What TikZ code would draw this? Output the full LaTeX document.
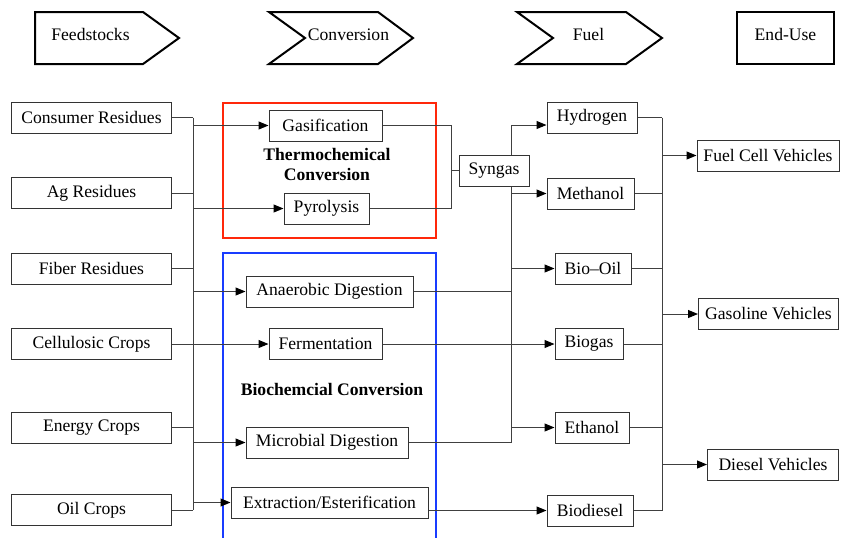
\documentclass[tikz,border=0pt]{standalone}
\usepackage{fontspec}
\setmainfont{Liberation Serif}
\usetikzlibrary{arrows.meta, positioning, calc}

\definecolor{thermored}{RGB}{255,40,10}
\definecolor{bioblue}{RGB}{25,60,255}

\tikzset{
    box/.style={draw=black!80, line width=0.5pt, fill=white, inner sep=0pt,
        minimum width=#1, minimum height=15.5pt},
    box/.default=40pt,
    hdr/.style={draw=black, line width=1pt, line join=miter},
    link/.style={draw=black!75, line width=0.5pt},
    arr/.style={link, -{Triangle[length=5pt, width=4pt, color=black]}},
    group/.style={line width=1.1pt},
    grouplabel/.style={font=\fontsize{8.8}{10}\selectfont\bfseries, align=center},
}

\begin{document}
\begin{tikzpicture}[x=0.5pt, y=-0.5pt, font=\fontsize{8.8}{10}\selectfont]

    \useasboundingbox (0,0) rectangle (841,537);
    \fill[white] (0,0) rectangle (841,537);

    % Define bus positions
    \def\BusA{193}
    \def\BusB{451}
    \def\BusC{511}
    \def\BusD{662}

    % Header chevrons
    \draw[hdr] (35,12) -- (143,12) -- (179,38) -- (143,64) -- (35,64) -- cycle;
    \node[anchor=base] (hfeed) at (90.5,40) {Feedstocks};
    \draw[hdr] (269,12) -- (378,12) -- (413,38) -- (378,64) -- (269,64) -- (305,38) -- cycle;
    \node[anchor=base] (hconv) at (348.5,40) {Conversion};
    \draw[hdr] (517,12) -- (626,12) -- (662,38) -- (626,64) -- (517,64) -- (553,38) -- cycle;
    \node[anchor=base] (hfuel) at (588.5,40) {Fuel};
    \draw[hdr] (737,12) rectangle (834,64);
    \node[anchor=base] (huse) at (785.5,40) {End-Use};

    % Conversion groups
    \draw[group, thermored] (223,103) rectangle (436,238);
    \node[grouplabel] (thermo) at (327,164) {Thermochemical\\Conversion};
    \draw[group, bioblue] (223,253) rectangle (436,545);
    \node[grouplabel] (bio) at (332,389) {Biochemcial Conversion};

    % Feedstocks
    \node[box=80pt] (cons)   at (91.5,117.5) {Consumer Residues};
    \node[box=80pt] (ag)     at (91.5,193)   {Ag Residues};
    \node[box=80pt] (fiber)  at (91.5,268.5) {Fiber Residues};
    \node[box=80pt] (cell)   at (91.5,344)   {Cellulosic Crops};
    \node[box=80pt] (energy) at (91.5,427.5) {Energy Crops};
    \node[box=80pt] (oil)    at (91.5,510)   {Oil Crops};

    % Conversion processes
    \node[box=56.5pt] (gas)   at (325.5,125.5) {Gasification};
    \node[box=42.5pt] (pyro)  at (326.5,208.5) {Pyrolysis};
    \node[box=83.5pt] (anaer) at (329.5,291.5) {Anaerobic Digestion};
    \node[box=56.5pt] (ferm)  at (325.5,344)   {Fermentation};
    \node[box=81pt]   (micro) at (327,442.5)   {Microbial Digestion};
    \node[box=98.5pt] (extr)  at (329.5,502.5) {Extraction/Esterification};
    \node[box=35pt]   (syn)   at (494,170.5)   {Syngas};

    % Fuels
    \node[box=45pt]   (hyd)    at (592,117.5)   {Hydrogen};
    \node[box=43.5pt] (meth)   at (590.5,193.5) {Methanol};
    \node[box=38pt]   (biooil) at (593,268.5)   {Bio--Oil};
    \node[box=34pt]   (biogas) at (589,344)     {Biogas};
    \node[box=37pt]   (eth)    at (592,427.5)   {Ethanol};
    \node[box=43pt]   (biod)   at (590,510.5)   {Biodiesel};

    % End uses
    \node[box=71pt]   (fcv)  at (768,155.5) {Fuel Cell Vehicles};
    \node[box=70pt]   (gasv) at (768.5,314) {Gasoline Vehicles};
    \node[box=65.5pt] (dsl)  at (773,464.5) {Diesel Vehicles};

    % Bus coordinates
    \coordinate (ba) at (\BusA,0);
    \coordinate (bb) at (\BusB,0);
    \coordinate (bc) at (\BusC,0);
    \coordinate (bd) at (\BusD,0);
    \coordinate (hin) at ([yshift=-3.75pt]hyd.west);

    % Feedstocks to conversion
    \foreach \src in {cons, ag, fiber, energy, oil}
        \draw[link] (\src.east) -- (ba |- \src.east);
    \draw[link] (ba |- cons.east) -- (ba |- oil.east);
    \foreach \dst in {gas, pyro, anaer, micro, extr}
        \draw[arr] (ba |- \dst.west) -- (\dst.west);
    \draw[arr] (cell.east) -- (ferm.west);

    % Thermochemical to syngas
    \draw[link] (gas.east) -- (bb |- gas.east) -- (bb |- pyro.east) -- (pyro.east);
    \draw[link] (bb |- syn.west) -- (syn.west);

    % Syngas and biochemical to fuels
    \draw[link] (bc |- syn.north) -- (bc |- hin);
    \draw[link] (bc |- syn.south) -- (bc |- micro.east);
    \draw[arr] (bc |- hin) -- (hin);
    \foreach \dst in {meth, biooil, eth}
        \draw[arr] (bc |- \dst.west) -- (\dst.west);
    \draw[link] (anaer.east) -- (bc |- anaer.east);
    \draw[link] (micro.east) -- (bc |- micro.east);
    \draw[arr] (ferm.east) -- (biogas.west);
    \draw[arr] (extr.east |- biod.west) -- (biod.west);

    % Fuels to end uses
    \foreach \src in {hyd, meth, biooil, biogas, eth, biod}
        \draw[link] (\src.east) -- (bd |- \src.east);
    \draw[link] (bd |- hyd.east) -- (bd |- biod.east);
    \foreach \dst in {fcv, gasv, dsl}
        \draw[arr] (bd |- \dst.west) -- (\dst.west);

\end{tikzpicture}
\end{document}
